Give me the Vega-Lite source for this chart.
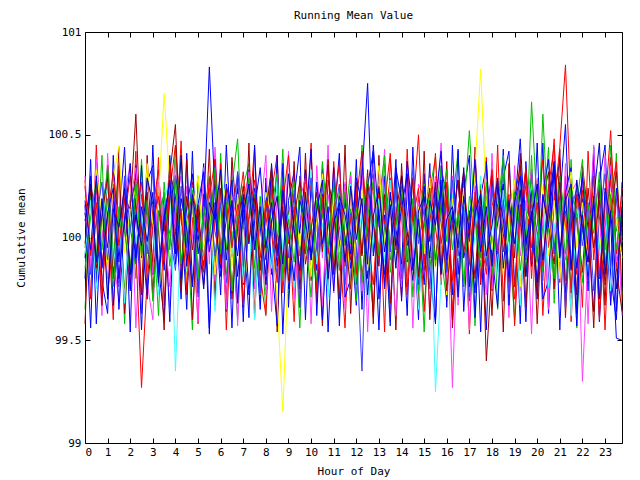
{
"$schema": "https://vega.github.io/schema/vega-lite/v6.json",
"width": 537, "height": 411,
"autosize": {"type": "none"},
"padding": {"left": 85, "top": 32, "right": 18, "bottom": 37},
"background": "white",
"config": {
  "font": "DejaVu Sans Mono",
  "view": {"stroke": "black", "strokeWidth": 1},
  "axis": {"grid": false, "domain": false, "tickColor": "black", "tickSize": -5, "labelColor": "black", "labelFont": "DejaVu Sans Mono", "labelFontSize": 11, "titleFont": "DejaVu Sans Mono", "titleFontSize": 11, "titleFontWeight": "normal", "titleColor": "black"}
},
"title": {"text": "Running Mean Value", "font": "DejaVu Sans Mono", "fontSize": 11, "fontWeight": "normal", "color": "black", "offset": 5, "anchor": "middle"},
"datasets": {
"runs": [
{"h":0,"s":13,"v":99.65},{"h":0.25,"s":13,"v":100.22},{"h":0.5,"s":13,"v":99.9},{"h":0.75,"s":13,"v":100.4},{"h":1,"s":13,"v":99.72},{"h":1.25,"s":13,"v":100.05},{"h":1.5,"s":13,"v":100.33},{"h":1.75,"s":13,"v":99.58},{"h":2,"s":13,"v":100.18},{"h":2.25,"s":13,"v":99.8},{"h":2.5,"s":13,"v":100.38},{"h":2.75,"s":13,"v":99.85},
{"h":3,"s":13,"v":100.12},{"h":3.25,"s":13,"v":99.62},{"h":3.5,"s":13,"v":100.27},{"h":3.75,"s":13,"v":99.94},{"h":4,"s":13,"v":100.44},{"h":4.25,"s":13,"v":99.75},{"h":4.5,"s":13,"v":100.08},{"h":4.75,"s":13,"v":99.55},{"h":5,"s":13,"v":100.3},{"h":5.25,"s":13,"v":99.88},{"h":5.5,"s":13,"v":100.2},{"h":5.75,"s":13,"v":99.67},
{"h":6,"s":13,"v":100.41},{"h":6.25,"s":13,"v":99.82},{"h":6.5,"s":13,"v":100.03},{"h":6.75,"s":13,"v":99.6},{"h":7,"s":13,"v":100.25},{"h":7.25,"s":13,"v":100.36},{"h":7.5,"s":13,"v":99.78},{"h":7.75,"s":13,"v":100.1},{"h":8,"s":13,"v":99.63},{"h":8.25,"s":13,"v":100.28},{"h":8.5,"s":13,"v":99.92},{"h":8.75,"s":13,"v":100.43},
{"h":9,"s":13,"v":99.7},{"h":9.25,"s":13,"v":100.15},{"h":9.5,"s":13,"v":99.56},{"h":9.75,"s":13,"v":100.21},{"h":10,"s":13,"v":100.02},{"h":10.25,"s":13,"v":99.73},{"h":10.5,"s":13,"v":100.37},{"h":10.75,"s":13,"v":99.86},{"h":11,"s":13,"v":100.24},{"h":11.25,"s":13,"v":99.61},{"h":11.5,"s":13,"v":100.09},{"h":11.75,"s":13,"v":100.32},
{"h":12,"s":13,"v":99.77},{"h":12.25,"s":13,"v":100.45},{"h":12.5,"s":13,"v":99.89},{"h":12.75,"s":13,"v":99.64},{"h":13,"s":13,"v":100.19},{"h":13.25,"s":13,"v":100.04},{"h":13.5,"s":13,"v":99.59},{"h":13.75,"s":13,"v":100.29},{"h":14,"s":13,"v":99.83},{"h":14.25,"s":13,"v":100.35},{"h":14.5,"s":13,"v":99.71},{"h":14.75,"s":13,"v":100.11},
{"h":15,"s":13,"v":99.54},{"h":15.25,"s":13,"v":100.23},{"h":15.5,"s":13,"v":100.39},{"h":15.75,"s":13,"v":99.91},{"h":16,"s":13,"v":99.69},{"h":16.25,"s":13,"v":100.16},{"h":16.5,"s":13,"v":100.42},{"h":16.75,"s":13,"v":99.76},{"h":17,"s":13,"v":100.07},{"h":17.25,"s":13,"v":99.57},{"h":17.5,"s":13,"v":100.26},{"h":17.75,"s":13,"v":99.87},
{"h":18,"s":13,"v":100.34},{"h":18.25,"s":13,"v":99.65},{"h":18.5,"s":13,"v":100.14},{"h":18.75,"s":13,"v":100.01},{"h":19,"s":13,"v":99.6},{"h":19.25,"s":13,"v":100.31},{"h":19.5,"s":13,"v":99.81},{"h":19.75,"s":13,"v":100.4},{"h":20,"s":13,"v":99.74},{"h":20.25,"s":13,"v":100.06},{"h":20.5,"s":13,"v":100.44},{"h":20.75,"s":13,"v":99.68},
{"h":21,"s":13,"v":100.17},{"h":21.25,"s":13,"v":99.79},{"h":21.5,"s":13,"v":100.38},{"h":21.75,"s":13,"v":99.56},{"h":22,"s":13,"v":100.13},{"h":22.25,"s":13,"v":99.93},{"h":22.5,"s":13,"v":100.36},{"h":22.75,"s":13,"v":99.62},{"h":23,"s":13,"v":100.22},{"h":23.25,"s":13,"v":99.84},{"h":23.5,"s":13,"v":100.41},{"h":23.75,"s":13,"v":99.72},
{"h":0,"s":14,"v":100.28},{"h":0.25,"s":14,"v":99.7},{"h":0.5,"s":14,"v":100.45},{"h":0.75,"s":14,"v":99.86},{"h":1,"s":14,"v":100.12},{"h":1.25,"s":14,"v":99.6},{"h":1.5,"s":14,"v":100.35},{"h":1.75,"s":14,"v":100.06},{"h":2,"s":14,"v":99.75},{"h":2.25,"s":14,"v":100.42},{"h":2.5,"s":14,"v":99.63},{"h":2.75,"s":14,"v":100.18},
{"h":3,"s":14,"v":99.88},{"h":3.25,"s":14,"v":100.39},{"h":3.5,"s":14,"v":99.67},{"h":3.75,"s":14,"v":100.24},{"h":4,"s":14,"v":99.95},{"h":4.25,"s":14,"v":100.47},{"h":4.5,"s":14,"v":99.72},{"h":4.75,"s":14,"v":100.1},{"h":5,"s":14,"v":99.58},{"h":5.25,"s":14,"v":100.31},{"h":5.5,"s":14,"v":100.03},{"h":5.75,"s":14,"v":99.79},
{"h":6,"s":14,"v":100.36},{"h":6.25,"s":14,"v":99.55},{"h":6.5,"s":14,"v":100.16},{"h":6.75,"s":14,"v":100.29},{"h":7,"s":14,"v":99.66},{"h":7.25,"s":14,"v":100.08},{"h":7.5,"s":14,"v":100.44},{"h":7.75,"s":14,"v":99.81},{"h":8,"s":14,"v":99.62},{"h":8.25,"s":14,"v":100.22},{"h":8.5,"s":14,"v":100.4},{"h":8.75,"s":14,"v":99.73},
{"h":9,"s":14,"v":100.13},{"h":9.25,"s":14,"v":99.59},{"h":9.5,"s":14,"v":100.3},{"h":9.75,"s":14,"v":99.92},{"h":10,"s":14,"v":100.46},{"h":10.25,"s":14,"v":99.68},{"h":10.5,"s":14,"v":100.19},{"h":10.75,"s":14,"v":99.76},{"h":11,"s":14,"v":100.37},{"h":11.25,"s":14,"v":99.97},{"h":11.5,"s":14,"v":99.56},{"h":11.75,"s":14,"v":100.26},
{"h":12,"s":14,"v":99.82},{"h":12.25,"s":14,"v":100.33},{"h":12.5,"s":14,"v":100.11},{"h":12.75,"s":14,"v":99.61},{"h":13,"s":14,"v":100.25},{"h":13.25,"s":14,"v":99.54},{"h":13.5,"s":14,"v":100.38},{"h":13.75,"s":14,"v":100.02},{"h":14,"s":14,"v":99.71},{"h":14.25,"s":14,"v":100.43},{"h":14.5,"s":14,"v":99.85},{"h":14.75,"s":14,"v":100.2},
{"h":15,"s":14,"v":99.64},{"h":15.25,"s":14,"v":100.09},{"h":15.5,"s":14,"v":100.41},{"h":15.75,"s":14,"v":99.77},{"h":16,"s":14,"v":100.27},{"h":16.25,"s":14,"v":99.6},{"h":16.5,"s":14,"v":100.14},{"h":16.75,"s":14,"v":100.32},{"h":17,"s":14,"v":99.53},{"h":17.25,"s":14,"v":100.17},{"h":17.5,"s":14,"v":99.91},{"h":17.75,"s":14,"v":100.39},
{"h":18,"s":14,"v":99.74},{"h":18.25,"s":14,"v":100.45},{"h":18.5,"s":14,"v":99.69},{"h":18.75,"s":14,"v":100.21},{"h":19,"s":14,"v":99.57},{"h":19.25,"s":14,"v":100.05},{"h":19.5,"s":14,"v":100.34},{"h":19.75,"s":14,"v":99.8},{"h":20,"s":14,"v":100.28},{"h":20.25,"s":14,"v":99.62},{"h":20.5,"s":14,"v":100.12},{"h":20.75,"s":14,"v":100.48},
{"h":21,"s":14,"v":99.78},{"h":21.25,"s":14,"v":100.3},{"h":21.5,"s":14,"v":99.59},{"h":21.75,"s":14,"v":100.15},{"h":22,"s":14,"v":99.66},{"h":22.25,"s":14,"v":100.42},{"h":22.5,"s":14,"v":99.89},{"h":22.75,"s":14,"v":100.24},{"h":23,"s":14,"v":99.55},{"h":23.25,"s":14,"v":100.19},{"h":23.5,"s":14,"v":100.37},{"h":23.75,"s":14,"v":99.7},
{"h":0,"s":15,"v":99.8},{"h":0.25,"s":15,"v":100.38},{"h":0.5,"s":15,"v":99.58},{"h":0.75,"s":15,"v":100.15},{"h":1,"s":15,"v":100.3},{"h":1.25,"s":15,"v":99.67},{"h":1.5,"s":15,"v":100.08},{"h":1.75,"s":15,"v":100.44},{"h":2,"s":15,"v":99.74},{"h":2.25,"s":15,"v":100.19},{"h":2.5,"s":15,"v":99.55},{"h":2.75,"s":15,"v":100.27},
{"h":3,"s":15,"v":100.35},{"h":3.25,"s":15,"v":99.85},{"h":3.5,"s":15,"v":99.61},{"h":3.75,"s":15,"v":100.22},{"h":4,"s":15,"v":100.12},{"h":4.25,"s":15,"v":99.7},{"h":4.5,"s":15,"v":100.41},{"h":4.75,"s":15,"v":99.78},{"h":5,"s":15,"v":100.03},{"h":5.25,"s":15,"v":100.36},{"h":5.5,"s":15,"v":99.56},{"h":5.75,"s":15,"v":100.17},
{"h":6,"s":15,"v":99.72},{"h":6.25,"s":15,"v":100.45},{"h":6.5,"s":15,"v":99.9},{"h":6.75,"s":15,"v":100.24},{"h":7,"s":15,"v":99.59},{"h":7.25,"s":15,"v":100.33},{"h":7.5,"s":15,"v":100.07},{"h":7.75,"s":15,"v":99.65},{"h":8,"s":15,"v":100.29},{"h":8.25,"s":15,"v":99.82},{"h":8.5,"s":15,"v":100.4},{"h":8.75,"s":15,"v":99.53},
{"h":9,"s":15,"v":100.18},{"h":9.25,"s":15,"v":100.32},{"h":9.5,"s":15,"v":99.75},{"h":9.75,"s":15,"v":100.06},{"h":10,"s":15,"v":100.43},{"h":10.25,"s":15,"v":99.62},{"h":10.5,"s":15,"v":100.21},{"h":10.75,"s":15,"v":99.89},{"h":11,"s":15,"v":100.34},{"h":11.25,"s":15,"v":99.57},{"h":11.5,"s":15,"v":100.26},{"h":11.75,"s":15,"v":100.01},
{"h":12,"s":15,"v":99.67},{"h":12.25,"s":15,"v":100.4},{"h":12.5,"s":15,"v":99.8},{"h":12.75,"s":15,"v":100.14},{"h":13,"s":15,"v":99.55},{"h":13.25,"s":15,"v":100.3},{"h":13.5,"s":15,"v":99.93},{"h":13.75,"s":15,"v":100.38},{"h":14,"s":15,"v":99.69},{"h":14.25,"s":15,"v":100.23},{"h":14.5,"s":15,"v":100.09},{"h":14.75,"s":15,"v":99.6},
{"h":15,"s":15,"v":100.31},{"h":15.25,"s":15,"v":99.84},{"h":15.5,"s":15,"v":99.58},{"h":15.75,"s":15,"v":100.35},{"h":16,"s":15,"v":100.18},{"h":16.25,"s":15,"v":99.72},{"h":16.5,"s":15,"v":100.43},{"h":16.75,"s":15,"v":99.64},{"h":17,"s":15,"v":100.11},{"h":17.25,"s":15,"v":100.25},{"h":17.5,"s":15,"v":99.54},{"h":17.75,"s":15,"v":100.37},
{"h":18,"s":15,"v":99.92},{"h":18.25,"s":15,"v":99.66},{"h":18.5,"s":15,"v":100.29},{"h":18.75,"s":15,"v":100.42},{"h":19,"s":15,"v":99.76},{"h":19.25,"s":15,"v":100.16},{"h":19.5,"s":15,"v":99.59},{"h":19.75,"s":15,"v":100.33},{"h":20,"s":15,"v":99.87},{"h":20.25,"s":15,"v":100.46},{"h":20.5,"s":15,"v":99.63},{"h":20.75,"s":15,"v":100.2},
{"h":21,"s":15,"v":100.38},{"h":21.25,"s":15,"v":99.73},{"h":21.5,"s":15,"v":100.1},{"h":21.75,"s":15,"v":99.57},{"h":22,"s":15,"v":100.32},{"h":22.25,"s":15,"v":100.04},{"h":22.5,"s":15,"v":99.64},{"h":22.75,"s":15,"v":100.27},{"h":23,"s":15,"v":100.45},{"h":23.25,"s":15,"v":99.81},{"h":23.5,"s":15,"v":99.6},{"h":23.75,"s":15,"v":100.12},
{"h":0,"s":16,"v":100.3},{"h":0.25,"s":16,"v":99.84},{"h":0.5,"s":16,"v":100.24},{"h":0.75,"s":16,"v":99.62},{"h":1,"s":16,"v":100.41},{"h":1.25,"s":16,"v":99.91},{"h":1.5,"s":16,"v":99.69},{"h":1.75,"s":16,"v":100.2},{"h":2,"s":16,"v":100.36},{"h":2.25,"s":16,"v":99.56},{"h":2.5,"s":16,"v":100.13},{"h":2.75,"s":16,"v":99.78},
{"h":3,"s":16,"v":99.6},{"h":3.25,"s":16,"v":100.27},{"h":3.5,"s":16,"v":100.09},{"h":3.75,"s":16,"v":99.66},{"h":4,"s":16,"v":100.38},{"h":4.25,"s":16,"v":99.81},{"h":4.5,"s":16,"v":100.25},{"h":4.75,"s":16,"v":100.02},{"h":5,"s":16,"v":99.59},{"h":5.25,"s":16,"v":100.34},{"h":5.5,"s":16,"v":99.87},{"h":5.75,"s":16,"v":100.44},
{"h":6,"s":16,"v":99.94},{"h":6.25,"s":16,"v":99.71},{"h":6.5,"s":16,"v":100.37},{"h":6.75,"s":16,"v":99.57},{"h":7,"s":16,"v":100.18},{"h":7.25,"s":16,"v":100.31},{"h":7.5,"s":16,"v":99.75},{"h":7.75,"s":16,"v":100.11},{"h":8,"s":16,"v":100.4},{"h":8.25,"s":16,"v":99.64},{"h":8.5,"s":16,"v":100.21},{"h":8.75,"s":16,"v":99.83},
{"h":9,"s":16,"v":100.42},{"h":9.25,"s":16,"v":99.7},{"h":9.5,"s":16,"v":100.07},{"h":9.75,"s":16,"v":100.28},{"h":10,"s":16,"v":99.58},{"h":10.25,"s":16,"v":100.35},{"h":10.5,"s":16,"v":99.9},{"h":10.75,"s":16,"v":100.45},{"h":11,"s":16,"v":99.73},{"h":11.25,"s":16,"v":100.16},{"h":11.5,"s":16,"v":99.65},{"h":11.75,"s":16,"v":100.3},
{"h":12,"s":16,"v":99.88},{"h":12.25,"s":16,"v":100.39},{"h":12.5,"s":16,"v":99.54},{"h":12.75,"s":16,"v":100.22},{"h":13,"s":16,"v":100.05},{"h":13.25,"s":16,"v":100.43},{"h":13.5,"s":16,"v":99.62},{"h":13.75,"s":16,"v":100.15},{"h":14,"s":16,"v":99.76},{"h":14.25,"s":16,"v":100.33},{"h":14.5,"s":16,"v":99.56},{"h":14.75,"s":16,"v":100.26},
{"h":15,"s":16,"v":100.19},{"h":15.25,"s":16,"v":99.63},{"h":15.5,"s":16,"v":100.08},{"h":15.75,"s":16,"v":100.46},{"h":16,"s":16,"v":99.79},{"h":16.25,"s":16,"v":100.3},{"h":16.5,"s":16,"v":99.67},{"h":16.75,"s":16,"v":100.12},{"h":17,"s":16,"v":99.55},{"h":17.25,"s":16,"v":100.38},{"h":17.5,"s":16,"v":100.01},{"h":17.75,"s":16,"v":99.72},
{"h":18,"s":16,"v":100.41},{"h":18.25,"s":16,"v":99.86},{"h":18.5,"s":16,"v":100.24},{"h":18.75,"s":16,"v":99.61},{"h":19,"s":16,"v":100.35},{"h":19.25,"s":16,"v":99.74},{"h":19.5,"s":16,"v":100.18},{"h":19.75,"s":16,"v":99.53},{"h":20,"s":16,"v":100.29},{"h":20.25,"s":16,"v":100.1},{"h":20.5,"s":16,"v":99.65},{"h":20.75,"s":16,"v":100.43},
{"h":21,"s":16,"v":99.8},{"h":21.25,"s":16,"v":100.36},{"h":21.5,"s":16,"v":99.7},{"h":21.75,"s":16,"v":100.14},{"h":22,"s":16,"v":100.27},{"h":22.25,"s":16,"v":99.58},{"h":22.5,"s":16,"v":100.33},{"h":22.75,"s":16,"v":99.92},{"h":23,"s":16,"v":100.4},{"h":23.25,"s":16,"v":99.69},{"h":23.5,"s":16,"v":100.23},{"h":23.75,"s":16,"v":99.62},
{"h":0,"s":17,"v":99.58},{"h":0.25,"s":17,"v":100.26},{"h":0.5,"s":17,"v":100.1},{"h":0.75,"s":17,"v":99.67},{"h":1,"s":17,"v":100.35},{"h":1.25,"s":17,"v":99.8},{"h":1.5,"s":17,"v":100.44},{"h":1.75,"s":17,"v":99.63},{"h":2,"s":17,"v":100.15},{"h":2.25,"s":17,"v":100.29},{"h":2.5,"s":17,"v":99.72},{"h":2.75,"s":17,"v":100.4},
{"h":3,"s":17,"v":99.82},{"h":3.25,"s":17,"v":100.05},{"h":3.5,"s":17,"v":99.55},{"h":3.75,"s":17,"v":100.32},{"h":4,"s":17,"v":100.2},{"h":4.25,"s":17,"v":99.74},{"h":4.5,"s":17,"v":100.38},{"h":4.75,"s":17,"v":99.6},{"h":5,"s":17,"v":100.12},{"h":5.25,"s":17,"v":99.86},{"h":5.5,"s":17,"v":100.43},{"h":5.75,"s":17,"v":99.69},
{"h":6,"s":17,"v":100.24},{"h":6.25,"s":17,"v":99.64},{"h":6.5,"s":17,"v":100.39},{"h":6.75,"s":17,"v":100.03},{"h":7,"s":17,"v":99.77},{"h":7.25,"s":17,"v":100.46},{"h":7.5,"s":17,"v":99.61},{"h":7.75,"s":17,"v":100.17},{"h":8,"s":17,"v":99.89},{"h":8.25,"s":17,"v":100.34},{"h":8.5,"s":17,"v":99.54},{"h":8.75,"s":17,"v":100.23},
{"h":9,"s":17,"v":99.84},{"h":9.25,"s":17,"v":100.37},{"h":9.5,"s":17,"v":99.66},{"h":9.75,"s":17,"v":100.41},{"h":10,"s":17,"v":99.79},{"h":10.25,"s":17,"v":100.09},{"h":10.5,"s":17,"v":99.57},{"h":10.75,"s":17,"v":100.28},{"h":11,"s":17,"v":100.14},{"h":11.25,"s":17,"v":99.7},{"h":11.5,"s":17,"v":100.45},{"h":11.75,"s":17,"v":99.63},
{"h":12,"s":17,"v":100.27},{"h":12.25,"s":17,"v":99.92},{"h":12.5,"s":17,"v":100.33},{"h":12.75,"s":17,"v":99.58},{"h":13,"s":17,"v":100.4},{"h":13.25,"s":17,"v":99.75},{"h":13.5,"s":17,"v":100.19},{"h":13.75,"s":17,"v":99.55},{"h":14,"s":17,"v":100.36},{"h":14.25,"s":17,"v":99.88},{"h":14.5,"s":17,"v":100.29},{"h":14.75,"s":17,"v":99.67},
{"h":15,"s":17,"v":100.42},{"h":15.25,"s":17,"v":99.6},{"h":15.5,"s":17,"v":100.22},{"h":15.75,"s":17,"v":99.83},{"h":16,"s":17,"v":100.37},{"h":16.25,"s":17,"v":99.56},{"h":16.5,"s":17,"v":100.04},{"h":16.75,"s":17,"v":100.31},{"h":17,"s":17,"v":99.71},{"h":17.25,"s":17,"v":100.44},{"h":17.5,"s":17,"v":99.77},{"h":17.75,"s":17,"v":100.15},
{"h":18,"s":17,"v":99.62},{"h":18.25,"s":17,"v":100.27},{"h":18.5,"s":17,"v":99.54},{"h":18.75,"s":17,"v":100.36},{"h":19,"s":17,"v":99.9},{"h":19.25,"s":17,"v":100.41},{"h":19.5,"s":17,"v":99.66},{"h":19.75,"s":17,"v":100.23},{"h":20,"s":17,"v":99.58},{"h":20.25,"s":17,"v":100.18},{"h":20.5,"s":17,"v":100.32},{"h":20.75,"s":17,"v":99.75},
{"h":21,"s":17,"v":100.43},{"h":21.25,"s":17,"v":99.61},{"h":21.5,"s":17,"v":100.2},{"h":21.75,"s":17,"v":99.72},{"h":22,"s":17,"v":100.35},{"h":22.25,"s":17,"v":100.11},{"h":22.5,"s":17,"v":99.56},{"h":22.75,"s":17,"v":100.26},{"h":23,"s":17,"v":99.67},{"h":23.25,"s":17,"v":100.39},{"h":23.5,"s":17,"v":99.85},{"h":23.75,"s":17,"v":99.64},
{"h":0,"s":18,"v":100.16},{"h":0.25,"s":18,"v":99.56},{"h":0.5,"s":18,"v":100.33},{"h":0.75,"s":18,"v":99.79},{"h":1,"s":18,"v":99.63},{"h":1.25,"s":18,"v":100.4},{"h":1.5,"s":18,"v":99.88},{"h":1.75,"s":18,"v":100.28},{"h":2,"s":18,"v":99.54},{"h":2.25,"s":18,"v":100.35},{"h":2.5,"s":18,"v":100.04},{"h":2.75,"s":18,"v":99.7},
{"h":3,"s":18,"v":100.45},{"h":3.25,"s":18,"v":99.76},{"h":3.5,"s":18,"v":100.18},{"h":3.75,"s":18,"v":99.59},{"h":4,"s":18,"v":100.3},{"h":4.25,"s":18,"v":100.13},{"h":4.5,"s":18,"v":99.65},{"h":4.75,"s":18,"v":100.42},{"h":5,"s":18,"v":99.73},{"h":5.25,"s":18,"v":100.21},{"h":5.5,"s":18,"v":99.53},{"h":5.75,"s":18,"v":100.38},
{"h":6,"s":18,"v":99.85},{"h":6.25,"s":18,"v":100.26},{"h":6.5,"s":18,"v":99.56},{"h":6.75,"s":18,"v":100.32},{"h":7,"s":18,"v":100.1},{"h":7.25,"s":18,"v":99.61},{"h":7.5,"s":18,"v":100.45},{"h":7.75,"s":18,"v":99.7},{"h":8,"s":18,"v":100.23},{"h":8.25,"s":18,"v":99.87},{"h":8.5,"s":18,"v":99.57},{"h":8.75,"s":18,"v":100.36},
{"h":9,"s":18,"v":99.66},{"h":9.25,"s":18,"v":100.19},{"h":9.5,"s":18,"v":100.44},{"h":9.75,"s":18,"v":99.6},{"h":10,"s":18,"v":100.27},{"h":10.25,"s":18,"v":99.84},{"h":10.5,"s":18,"v":100.33},{"h":10.75,"s":18,"v":99.54},{"h":11,"s":18,"v":100.08},{"h":11.25,"s":18,"v":100.41},{"h":11.5,"s":18,"v":99.71},{"h":11.75,"s":18,"v":99.8},
{"h":12,"s":18,"v":100.38},{"h":12.25,"s":18,"v":99.65},{"h":12.5,"s":18,"v":100.25},{"h":12.75,"s":18,"v":100.42},{"h":13,"s":18,"v":99.7},{"h":13.25,"s":18,"v":100.11},{"h":13.5,"s":18,"v":99.57},{"h":13.75,"s":18,"v":100.34},{"h":14,"s":18,"v":100.17},{"h":14.25,"s":18,"v":99.62},{"h":14.5,"s":18,"v":100.44},{"h":14.75,"s":18,"v":99.77},
{"h":15,"s":18,"v":99.91},{"h":15.25,"s":18,"v":100.36},{"h":15.5,"s":18,"v":99.59},{"h":15.75,"s":18,"v":100.28},{"h":16,"s":18,"v":99.66},{"h":16.25,"s":18,"v":100.45},{"h":16.5,"s":18,"v":99.82},{"h":16.75,"s":18,"v":100.22},{"h":17,"s":18,"v":100.4},{"h":17.25,"s":18,"v":99.61},{"h":17.5,"s":18,"v":100.15},{"h":17.75,"s":18,"v":99.55},
{"h":18,"s":18,"v":100.3},{"h":18.25,"s":18,"v":99.83},{"h":18.5,"s":18,"v":100.43},{"h":18.75,"s":18,"v":99.67},{"h":19,"s":18,"v":100.25},{"h":19.25,"s":18,"v":99.58},{"h":19.5,"s":18,"v":100.37},{"h":19.75,"s":18,"v":99.86},{"h":20,"s":18,"v":100.46},{"h":20.25,"s":18,"v":99.7},{"h":20.5,"s":18,"v":99.79},{"h":20.75,"s":18,"v":100.35},
{"h":21,"s":18,"v":99.55},{"h":21.25,"s":18,"v":100.22},{"h":21.5,"s":18,"v":100.34},{"h":21.75,"s":18,"v":99.63},{"h":22,"s":18,"v":100.19},{"h":22.25,"s":18,"v":99.74},{"h":22.5,"s":18,"v":100.44},{"h":22.75,"s":18,"v":99.59},{"h":23,"s":18,"v":100.09},{"h":23.25,"s":18,"v":100.31},{"h":23.5,"s":18,"v":99.64},{"h":23.75,"s":18,"v":100.27},
{"h":0,"s":1,"v":100.12},{"h":0.25,"s":1,"v":99.92},{"h":0.5,"s":1,"v":100.25},{"h":0.75,"s":1,"v":100.03},{"h":1,"s":1,"v":99.85},{"h":1.25,"s":1,"v":100.18},{"h":1.5,"s":1,"v":99.78},{"h":1.75,"s":1,"v":100.09},{"h":2,"s":1,"v":100.3},{"h":2.25,"s":1,"v":99.95},{"h":2.5,"s":1,"v":99.27},{"h":2.75,"s":1,"v":99.8},
{"h":3,"s":1,"v":100.14},{"h":3.25,"s":1,"v":100.33},{"h":3.5,"s":1,"v":99.9},{"h":3.75,"s":1,"v":100.22},{"h":4,"s":1,"v":100.45},{"h":4.25,"s":1,"v":100.08},{"h":4.5,"s":1,"v":99.82},{"h":4.75,"s":1,"v":100.27},{"h":5,"s":1,"v":100.05},{"h":5.25,"s":1,"v":99.88},{"h":5.5,"s":1,"v":100.19},{"h":5.75,"s":1,"v":100.38},
{"h":6,"s":1,"v":99.94},{"h":6.25,"s":1,"v":100.15},{"h":6.5,"s":1,"v":99.75},{"h":6.75,"s":1,"v":100.1},{"h":7,"s":1,"v":100.32},{"h":7.25,"s":1,"v":99.97},{"h":7.5,"s":1,"v":100.21},{"h":7.75,"s":1,"v":99.86},{"h":8,"s":1,"v":100.06},{"h":8.25,"s":1,"v":100.28},{"h":8.5,"s":1,"v":99.91},{"h":8.75,"s":1,"v":100.17},
{"h":9,"s":1,"v":100.4},{"h":9.25,"s":1,"v":100.02},{"h":9.5,"s":1,"v":99.81},{"h":9.75,"s":1,"v":100.13},{"h":10,"s":1,"v":100.26},{"h":10.25,"s":1,"v":99.93},{"h":10.5,"s":1,"v":100.11},{"h":10.75,"s":1,"v":100.35},{"h":11,"s":1,"v":99.84},{"h":11.25,"s":1,"v":100.04},{"h":11.5,"s":1,"v":100.22},{"h":11.75,"s":1,"v":99.89},
{"h":12,"s":1,"v":100.18},{"h":12.25,"s":1,"v":100.42},{"h":12.5,"s":1,"v":100},{"h":12.75,"s":1,"v":99.77},{"h":13,"s":1,"v":100.16},{"h":13.25,"s":1,"v":100.07},{"h":13.5,"s":1,"v":100.29},{"h":13.75,"s":1,"v":99.96},{"h":14,"s":1,"v":100.12},{"h":14.25,"s":1,"v":99.72},{"h":14.5,"s":1,"v":100.09},{"h":14.75,"s":1,"v":100.24},
{"h":15,"s":1,"v":99.87},{"h":15.25,"s":1,"v":100.31},{"h":15.5,"s":1,"v":100.05},{"h":15.75,"s":1,"v":99.83},{"h":16,"s":1,"v":100.2},{"h":16.25,"s":1,"v":99.64},{"h":16.5,"s":1,"v":100.08},{"h":16.75,"s":1,"v":100.27},{"h":17,"s":1,"v":99.98},{"h":17.25,"s":1,"v":100.15},{"h":17.5,"s":1,"v":99.79},{"h":17.75,"s":1,"v":100.1},
{"h":18,"s":1,"v":100.33},{"h":18.25,"s":1,"v":99.92},{"h":18.5,"s":1,"v":100.19},{"h":18.75,"s":1,"v":100.02},{"h":19,"s":1,"v":99.7},{"h":19.25,"s":1,"v":100.14},{"h":19.5,"s":1,"v":100.25},{"h":19.75,"s":1,"v":99.88},{"h":20,"s":1,"v":100.06},{"h":20.25,"s":1,"v":100.38},{"h":20.5,"s":1,"v":99.95},{"h":20.75,"s":1,"v":100.17},
{"h":21,"s":1,"v":100.44},{"h":21.25,"s":1,"v":100.84},{"h":21.5,"s":1,"v":100.12},{"h":21.75,"s":1,"v":99.82},{"h":22,"s":1,"v":100.23},{"h":22.25,"s":1,"v":99.91},{"h":22.5,"s":1,"v":100.16},{"h":22.75,"s":1,"v":99.6},{"h":23,"s":1,"v":100.08},{"h":23.25,"s":1,"v":100.28},{"h":23.5,"s":1,"v":99.86},{"h":23.75,"s":1,"v":100.05},
{"h":0,"s":2,"v":99.95},{"h":0.25,"s":2,"v":100.2},{"h":0.5,"s":2,"v":99.82},{"h":0.75,"s":2,"v":100.08},{"h":1,"s":2,"v":100.35},{"h":1.25,"s":2,"v":99.9},{"h":1.5,"s":2,"v":100.15},{"h":1.75,"s":2,"v":99.75},{"h":2,"s":2,"v":100.04},{"h":2.25,"s":2,"v":100.28},{"h":2.5,"s":2,"v":99.92},{"h":2.75,"s":2,"v":100.12},
{"h":3,"s":2,"v":99.7},{"h":3.25,"s":2,"v":100.06},{"h":3.5,"s":2,"v":100.22},{"h":3.75,"s":2,"v":99.86},{"h":4,"s":2,"v":100.1},{"h":4.25,"s":2,"v":100.38},{"h":4.5,"s":2,"v":99.97},{"h":4.75,"s":2,"v":100.18},{"h":5,"s":2,"v":99.8},{"h":5.25,"s":2,"v":100.07},{"h":5.5,"s":2,"v":100.3},{"h":5.75,"s":2,"v":99.88},
{"h":6,"s":2,"v":100.16},{"h":6.25,"s":2,"v":99.94},{"h":6.5,"s":2,"v":100.25},{"h":6.75,"s":2,"v":100.48},{"h":7,"s":2,"v":99.85},{"h":7.25,"s":2,"v":100.09},{"h":7.5,"s":2,"v":100.21},{"h":7.75,"s":2,"v":99.72},{"h":8,"s":2,"v":100.13},{"h":8.25,"s":2,"v":100.33},{"h":8.5,"s":2,"v":100.02},{"h":8.75,"s":2,"v":99.83},
{"h":9,"s":2,"v":100.11},{"h":9.25,"s":2,"v":100.27},{"h":9.5,"s":2,"v":99.91},{"h":9.75,"s":2,"v":100.19},{"h":10,"s":2,"v":100.04},{"h":10.25,"s":2,"v":99.78},{"h":10.5,"s":2,"v":100.36},{"h":10.75,"s":2,"v":100.08},{"h":11,"s":2,"v":99.87},{"h":11.25,"s":2,"v":100.24},{"h":11.5,"s":2,"v":99.96},{"h":11.75,"s":2,"v":100.14},
{"h":12,"s":2,"v":99.69},{"h":12.25,"s":2,"v":100.1},{"h":12.5,"s":2,"v":100.29},{"h":12.75,"s":2,"v":99.93},{"h":13,"s":2,"v":100.17},{"h":13.25,"s":2,"v":100.4},{"h":13.5,"s":2,"v":99.89},{"h":13.75,"s":2,"v":100.05},{"h":14,"s":2,"v":100.23},{"h":14.25,"s":2,"v":99.81},{"h":14.5,"s":2,"v":100.12},{"h":14.75,"s":2,"v":100},
{"h":15,"s":2,"v":100.26},{"h":15.25,"s":2,"v":99.85},{"h":15.5,"s":2,"v":100.08},{"h":15.75,"s":2,"v":100.34},{"h":16,"s":2,"v":99.98},{"h":16.25,"s":2,"v":100.18},{"h":16.5,"s":2,"v":99.74},{"h":16.75,"s":2,"v":100.11},{"h":17,"s":2,"v":100.52},{"h":17.25,"s":2,"v":100.06},{"h":17.5,"s":2,"v":99.86},{"h":17.75,"s":2,"v":100.2},
{"h":18,"s":2,"v":99.97},{"h":18.25,"s":2,"v":100.15},{"h":18.5,"s":2,"v":100.31},{"h":18.75,"s":2,"v":99.8},{"h":19,"s":2,"v":100.09},{"h":19.25,"s":2,"v":100.24},{"h":19.5,"s":2,"v":99.92},{"h":19.75,"s":2,"v":100.66},{"h":20,"s":2,"v":100.13},{"h":20.25,"s":2,"v":99.83},{"h":20.5,"s":2,"v":100.21},{"h":20.75,"s":2,"v":99.95},
{"h":21,"s":2,"v":100.3},{"h":21.25,"s":2,"v":100.07},{"h":21.5,"s":2,"v":99.77},{"h":21.75,"s":2,"v":100.16},{"h":22,"s":2,"v":100.38},{"h":22.25,"s":2,"v":99.9},{"h":22.5,"s":2,"v":100.12},{"h":22.75,"s":2,"v":100.27},{"h":23,"s":2,"v":99.94},{"h":23.25,"s":2,"v":100.45},{"h":23.5,"s":2,"v":100.03},{"h":23.75,"s":2,"v":100.19},
{"h":0,"s":3,"v":99.9},{"h":0.25,"s":3,"v":100.3},{"h":0.5,"s":3,"v":99.78},{"h":0.75,"s":3,"v":100.14},{"h":1,"s":3,"v":99.95},{"h":1.25,"s":3,"v":100.26},{"h":1.5,"s":3,"v":99.65},{"h":1.75,"s":3,"v":100.08},{"h":2,"s":3,"v":100.18},{"h":2.25,"s":3,"v":99.88},{"h":2.5,"s":3,"v":100.35},{"h":2.75,"s":3,"v":99.72},
{"h":3,"s":3,"v":100.06},{"h":3.25,"s":3,"v":100.22},{"h":3.5,"s":3,"v":99.84},{"h":3.75,"s":3,"v":100.4},{"h":4,"s":3,"v":100.03},{"h":4.25,"s":3,"v":99.8},{"h":4.5,"s":3,"v":100.15},{"h":4.75,"s":3,"v":100.31},{"h":5,"s":3,"v":99.92},{"h":5.25,"s":3,"v":100.12},{"h":5.5,"s":3,"v":100.83},{"h":5.75,"s":3,"v":100.2},
{"h":6,"s":3,"v":99.86},{"h":6.25,"s":3,"v":100.09},{"h":6.5,"s":3,"v":100.28},{"h":6.75,"s":3,"v":99.68},{"h":7,"s":3,"v":100.17},{"h":7.25,"s":3,"v":99.97},{"h":7.5,"s":3,"v":100.24},{"h":7.75,"s":3,"v":100.05},{"h":8,"s":3,"v":99.82},{"h":8.25,"s":3,"v":100.36},{"h":8.5,"s":3,"v":99.93},{"h":8.75,"s":3,"v":100.13},
{"h":9,"s":3,"v":99.75},{"h":9.25,"s":3,"v":100.21},{"h":9.5,"s":3,"v":100.02},{"h":9.75,"s":3,"v":100.33},{"h":10,"s":3,"v":99.89},{"h":10.25,"s":3,"v":100.16},{"h":10.5,"s":3,"v":99.6},{"h":10.75,"s":3,"v":100.1},{"h":11,"s":3,"v":100.27},{"h":11.25,"s":3,"v":99.94},{"h":11.5,"s":3,"v":100.19},{"h":11.75,"s":3,"v":99.85},
{"h":12,"s":3,"v":100.08},{"h":12.25,"s":3,"v":100.3},{"h":12.5,"s":3,"v":100.75},{"h":12.75,"s":3,"v":99.91},{"h":13,"s":3,"v":100.14},{"h":13.25,"s":3,"v":99.76},{"h":13.5,"s":3,"v":100.22},{"h":13.75,"s":3,"v":100.04},{"h":14,"s":3,"v":99.87},{"h":14.25,"s":3,"v":100.37},{"h":14.5,"s":3,"v":100.11},{"h":14.75,"s":3,"v":99.81},
{"h":15,"s":3,"v":100.25},{"h":15.25,"s":3,"v":99.98},{"h":15.5,"s":3,"v":100.17},{"h":15.75,"s":3,"v":100.42},{"h":16,"s":3,"v":99.84},{"h":16.25,"s":3,"v":100.09},{"h":16.5,"s":3,"v":100.28},{"h":16.75,"s":3,"v":99.9},{"h":17,"s":3,"v":100.03},{"h":17.25,"s":3,"v":99.73},{"h":17.5,"s":3,"v":100.2},{"h":17.75,"s":3,"v":100.35},
{"h":18,"s":3,"v":99.88},{"h":18.25,"s":3,"v":100.07},{"h":18.5,"s":3,"v":100.26},{"h":18.75,"s":3,"v":99.79},{"h":19,"s":3,"v":100.15},{"h":19.25,"s":3,"v":100.48},{"h":19.5,"s":3,"v":99.96},{"h":19.75,"s":3,"v":100.13},{"h":20,"s":3,"v":99.7},{"h":20.25,"s":3,"v":100.22},{"h":20.5,"s":3,"v":100.38},{"h":20.75,"s":3,"v":99.92},
{"h":21,"s":3,"v":100.18},{"h":21.25,"s":3,"v":100.55},{"h":21.5,"s":3,"v":99.85},{"h":21.75,"s":3,"v":100.11},{"h":22,"s":3,"v":100.29},{"h":22.25,"s":3,"v":99.94},{"h":22.5,"s":3,"v":100.4},{"h":22.75,"s":3,"v":99.8},{"h":23,"s":3,"v":100.16},{"h":23.25,"s":3,"v":99.67},{"h":23.5,"s":3,"v":100.24},{"h":23.75,"s":3,"v":100.02},
{"h":0,"s":4,"v":100.15},{"h":0.25,"s":4,"v":99.88},{"h":0.5,"s":4,"v":100.38},{"h":0.75,"s":4,"v":100.04},{"h":1,"s":4,"v":99.8},{"h":1.25,"s":4,"v":100.22},{"h":1.5,"s":4,"v":100.09},{"h":1.75,"s":4,"v":99.7},{"h":2,"s":4,"v":100.17},{"h":2.25,"s":4,"v":100.34},{"h":2.5,"s":4,"v":99.94},{"h":2.75,"s":4,"v":100.11},
{"h":3,"s":4,"v":99.82},{"h":3.25,"s":4,"v":100.26},{"h":3.5,"s":4,"v":100.03},{"h":3.75,"s":4,"v":99.76},{"h":4,"s":4,"v":100.14},{"h":4.25,"s":4,"v":100.3},{"h":4.5,"s":4,"v":99.91},{"h":4.75,"s":4,"v":100.19},{"h":5,"s":4,"v":99.85},{"h":5.25,"s":4,"v":100.06},{"h":5.5,"s":4,"v":100.28},{"h":5.75,"s":4,"v":99.79},
{"h":6,"s":4,"v":100.12},{"h":6.25,"s":4,"v":99.65},{"h":6.5,"s":4,"v":100.2},{"h":6.75,"s":4,"v":100.07},{"h":7,"s":4,"v":99.89},{"h":7.25,"s":4,"v":100.32},{"h":7.5,"s":4,"v":99.96},{"h":7.75,"s":4,"v":100.16},{"h":8,"s":4,"v":99.72},{"h":8.25,"s":4,"v":100.1},{"h":8.5,"s":4,"v":100.25},{"h":8.75,"s":4,"v":99.87},
{"h":9,"s":4,"v":100.05},{"h":9.25,"s":4,"v":99.78},{"h":9.5,"s":4,"v":100.18},{"h":9.75,"s":4,"v":100.29},{"h":10,"s":4,"v":99.92},{"h":10.25,"s":4,"v":100.13},{"h":10.5,"s":4,"v":99.67},{"h":10.75,"s":4,"v":100.21},{"h":11,"s":4,"v":100.02},{"h":11.25,"s":4,"v":99.84},{"h":11.5,"s":4,"v":100.27},{"h":11.75,"s":4,"v":99.95},
{"h":12,"s":4,"v":100.09},{"h":12.25,"s":4,"v":99.74},{"h":12.5,"s":4,"v":100.15},{"h":12.75,"s":4,"v":100.36},{"h":13,"s":4,"v":99.88},{"h":13.25,"s":4,"v":100.2},{"h":13.5,"s":4,"v":99.98},{"h":13.75,"s":4,"v":99.62},{"h":14,"s":4,"v":100.11},{"h":14.25,"s":4,"v":100.24},{"h":14.5,"s":4,"v":99.9},{"h":14.75,"s":4,"v":100.17},
{"h":15,"s":4,"v":99.81},{"h":15.25,"s":4,"v":100.08},{"h":15.5,"s":4,"v":100.3},{"h":15.75,"s":4,"v":99.94},{"h":16,"s":4,"v":100.14},{"h":16.25,"s":4,"v":99.27},{"h":16.5,"s":4,"v":100.05},{"h":16.75,"s":4,"v":100.23},{"h":17,"s":4,"v":99.86},{"h":17.25,"s":4,"v":100.31},{"h":17.5,"s":4,"v":99.97},{"h":17.75,"s":4,"v":100.12},
{"h":18,"s":4,"v":99.75},{"h":18.25,"s":4,"v":100.18},{"h":18.5,"s":4,"v":100.06},{"h":18.75,"s":4,"v":99.83},{"h":19,"s":4,"v":100.26},{"h":19.25,"s":4,"v":99.91},{"h":19.5,"s":4,"v":100.15},{"h":19.75,"s":4,"v":100.33},{"h":20,"s":4,"v":99.8},{"h":20.25,"s":4,"v":100.1},{"h":20.5,"s":4,"v":99.72},{"h":20.75,"s":4,"v":100.04},
{"h":21,"s":4,"v":100.13},{"h":21.25,"s":4,"v":99.89},{"h":21.5,"s":4,"v":100.22},{"h":21.75,"s":4,"v":100.27},{"h":22,"s":4,"v":99.3},{"h":22.25,"s":4,"v":99.93},{"h":22.5,"s":4,"v":100.45},{"h":22.75,"s":4,"v":99.82},{"h":23,"s":4,"v":100.09},{"h":23.25,"s":4,"v":100.35},{"h":23.5,"s":4,"v":99.88},{"h":23.75,"s":4,"v":100.2},
{"h":0,"s":5,"v":99.92},{"h":0.25,"s":5,"v":100.18},{"h":0.5,"s":5,"v":99.75},{"h":0.75,"s":5,"v":100.05},{"h":1,"s":5,"v":100.27},{"h":1.25,"s":5,"v":99.86},{"h":1.5,"s":5,"v":100.1},{"h":1.75,"s":5,"v":99.68},{"h":2,"s":5,"v":100.21},{"h":2.25,"s":5,"v":99.97},{"h":2.5,"s":5,"v":100.14},{"h":2.75,"s":5,"v":99.8},
{"h":3,"s":5,"v":100.08},{"h":3.25,"s":5,"v":99.72},{"h":3.5,"s":5,"v":100.16},{"h":3.75,"s":5,"v":100.31},{"h":4,"s":5,"v":99.35},{"h":4.25,"s":5,"v":100.06},{"h":4.5,"s":5,"v":99.83},{"h":4.75,"s":5,"v":100.24},{"h":5,"s":5,"v":100.01},{"h":5.25,"s":5,"v":99.89},{"h":5.5,"s":5,"v":100.19},{"h":5.75,"s":5,"v":99.64},
{"h":6,"s":5,"v":100.13},{"h":6.25,"s":5,"v":100.27},{"h":6.5,"s":5,"v":99.92},{"h":6.75,"s":5,"v":100.15},{"h":7,"s":5,"v":99.78},{"h":7.25,"s":5,"v":100.09},{"h":7.5,"s":5,"v":99.6},{"h":7.75,"s":5,"v":100.2},{"h":8,"s":5,"v":100.04},{"h":8.25,"s":5,"v":99.85},{"h":8.5,"s":5,"v":100.29},{"h":8.75,"s":5,"v":99.94},
{"h":9,"s":5,"v":100.11},{"h":9.25,"s":5,"v":99.76},{"h":9.5,"s":5,"v":100.17},{"h":9.75,"s":5,"v":99.98},{"h":10,"s":5,"v":100.33},{"h":10.25,"s":5,"v":99.87},{"h":10.5,"s":5,"v":100.07},{"h":10.75,"s":5,"v":99.71},{"h":11,"s":5,"v":100.22},{"h":11.25,"s":5,"v":100.1},{"h":11.5,"s":5,"v":99.82},{"h":11.75,"s":5,"v":100.26},
{"h":12,"s":5,"v":99.91},{"h":12.25,"s":5,"v":100.14},{"h":12.5,"s":5,"v":99.69},{"h":12.75,"s":5,"v":100.03},{"h":13,"s":5,"v":100.19},{"h":13.25,"s":5,"v":99.88},{"h":13.5,"s":5,"v":100.28},{"h":13.75,"s":5,"v":99.95},{"h":14,"s":5,"v":100.16},{"h":14.25,"s":5,"v":99.78},{"h":14.5,"s":5,"v":100.08},{"h":14.75,"s":5,"v":99.65},
{"h":15,"s":5,"v":100.12},{"h":15.25,"s":5,"v":100.25},{"h":15.5,"s":5,"v":99.25},{"h":15.75,"s":5,"v":99.8},{"h":16,"s":5,"v":100.06},{"h":16.25,"s":5,"v":100.21},{"h":16.5,"s":5,"v":99.9},{"h":16.75,"s":5,"v":100.17},{"h":17,"s":5,"v":99.73},{"h":17.25,"s":5,"v":100.02},{"h":17.5,"s":5,"v":100.3},{"h":17.75,"s":5,"v":99.86},
{"h":18,"s":5,"v":100.09},{"h":18.25,"s":5,"v":99.81},{"h":18.5,"s":5,"v":100.23},{"h":18.75,"s":5,"v":99.93},{"h":19,"s":5,"v":100.15},{"h":19.25,"s":5,"v":99.67},{"h":19.5,"s":5,"v":100.11},{"h":19.75,"s":5,"v":100.26},{"h":20,"s":5,"v":99.96},{"h":20.25,"s":5,"v":100.18},{"h":20.5,"s":5,"v":99.76},{"h":20.75,"s":5,"v":100.07},
{"h":21,"s":5,"v":99.88},{"h":21.25,"s":5,"v":100.2},{"h":21.5,"s":5,"v":99.62},{"h":21.75,"s":5,"v":100.14},{"h":22,"s":5,"v":100.03},{"h":22.25,"s":5,"v":99.79},{"h":22.5,"s":5,"v":100.29},{"h":22.75,"s":5,"v":99.91},{"h":23,"s":5,"v":100.16},{"h":23.25,"s":5,"v":99.74},{"h":23.5,"s":5,"v":100.1},{"h":23.75,"s":5,"v":99.98},
{"h":0,"s":6,"v":100.2},{"h":0.25,"s":6,"v":99.95},{"h":0.5,"s":6,"v":100.33},{"h":0.75,"s":6,"v":100.1},{"h":1,"s":6,"v":99.84},{"h":1.25,"s":6,"v":100.28},{"h":1.5,"s":6,"v":100.45},{"h":1.75,"s":6,"v":99.92},{"h":2,"s":6,"v":100.14},{"h":2.25,"s":6,"v":100.24},{"h":2.5,"s":6,"v":99.88},{"h":2.75,"s":6,"v":100.36},
{"h":3,"s":6,"v":100.05},{"h":3.25,"s":6,"v":100.18},{"h":3.5,"s":6,"v":100.7},{"h":3.75,"s":6,"v":100.25},{"h":4,"s":6,"v":99.9},{"h":4.25,"s":6,"v":100.19},{"h":4.5,"s":6,"v":99.78},{"h":4.75,"s":6,"v":100.13},{"h":5,"s":6,"v":100.3},{"h":5.25,"s":6,"v":99.94},{"h":5.5,"s":6,"v":100.16},{"h":5.75,"s":6,"v":99.82},
{"h":6,"s":6,"v":100.09},{"h":6.25,"s":6,"v":100.27},{"h":6.5,"s":6,"v":99.86},{"h":6.75,"s":6,"v":100.21},{"h":7,"s":6,"v":100.03},{"h":7.25,"s":6,"v":99.74},{"h":7.5,"s":6,"v":100.15},{"h":7.75,"s":6,"v":99.91},{"h":8,"s":6,"v":100.22},{"h":8.25,"s":6,"v":100.11},{"h":8.5,"s":6,"v":99.7},{"h":8.75,"s":6,"v":99.15},
{"h":9,"s":6,"v":99.9},{"h":9.25,"s":6,"v":100.17},{"h":9.5,"s":6,"v":99.96},{"h":9.75,"s":6,"v":100.26},{"h":10,"s":6,"v":99.81},{"h":10.25,"s":6,"v":100.08},{"h":10.5,"s":6,"v":100.31},{"h":10.75,"s":6,"v":99.87},{"h":11,"s":6,"v":100.2},{"h":11.25,"s":6,"v":99.93},{"h":11.5,"s":6,"v":100.14},{"h":11.75,"s":6,"v":99.75},
{"h":12,"s":6,"v":100.06},{"h":12.25,"s":6,"v":100.23},{"h":12.5,"s":6,"v":99.84},{"h":12.75,"s":6,"v":100.12},{"h":13,"s":6,"v":100.35},{"h":13.25,"s":6,"v":99.97},{"h":13.5,"s":6,"v":100.18},{"h":13.75,"s":6,"v":99.89},{"h":14,"s":6,"v":100.27},{"h":14.25,"s":6,"v":100.04},{"h":14.5,"s":6,"v":99.79},{"h":14.75,"s":6,"v":100.15},
{"h":15,"s":6,"v":99.92},{"h":15.25,"s":6,"v":100.29},{"h":15.5,"s":6,"v":99.85},{"h":15.75,"s":6,"v":100.1},{"h":16,"s":6,"v":99.72},{"h":16.25,"s":6,"v":100.19},{"h":16.5,"s":6,"v":100.02},{"h":16.75,"s":6,"v":100.24},{"h":17,"s":6,"v":99.88},{"h":17.25,"s":6,"v":100.33},{"h":17.5,"s":6,"v":100.82},{"h":17.75,"s":6,"v":100.16},
{"h":18,"s":6,"v":99.94},{"h":18.25,"s":6,"v":100.21},{"h":18.5,"s":6,"v":99.82},{"h":18.75,"s":6,"v":100.09},{"h":19,"s":6,"v":100.28},{"h":19.25,"s":6,"v":99.76},{"h":19.5,"s":6,"v":100.13},{"h":19.75,"s":6,"v":100.06},{"h":20,"s":6,"v":99.84},{"h":20.25,"s":6,"v":100.25},{"h":20.5,"s":6,"v":99.91},{"h":20.75,"s":6,"v":100.18},
{"h":21,"s":6,"v":99.8},{"h":21.25,"s":6,"v":100.11},{"h":21.5,"s":6,"v":100.32},{"h":21.75,"s":6,"v":99.95},{"h":22,"s":6,"v":100.17},{"h":22.25,"s":6,"v":99.87},{"h":22.5,"s":6,"v":100.26},{"h":22.75,"s":6,"v":100.01},{"h":23,"s":6,"v":99.83},{"h":23.25,"s":6,"v":100.22},{"h":23.5,"s":6,"v":100.08},{"h":23.75,"s":6,"v":99.9},
{"h":0,"s":7,"v":99.97},{"h":0.25,"s":7,"v":100.24},{"h":0.5,"s":7,"v":99.85},{"h":0.75,"s":7,"v":100.11},{"h":1,"s":7,"v":100.29},{"h":1.25,"s":7,"v":99.8},{"h":1.5,"s":7,"v":100.07},{"h":1.75,"s":7,"v":100.18},{"h":2,"s":7,"v":100.14},{"h":2.25,"s":7,"v":100.6},{"h":2.5,"s":7,"v":99.9},{"h":2.75,"s":7,"v":100.22},
{"h":3,"s":7,"v":99.73},{"h":3.25,"s":7,"v":100.13},{"h":3.5,"s":7,"v":100.03},{"h":3.75,"s":7,"v":100.31},{"h":4,"s":7,"v":100.55},{"h":4.25,"s":7,"v":99.86},{"h":4.5,"s":7,"v":100.2},{"h":4.75,"s":7,"v":99.94},{"h":5,"s":7,"v":100.16},{"h":5.25,"s":7,"v":99.77},{"h":5.5,"s":7,"v":100.09},{"h":5.75,"s":7,"v":100.28},
{"h":6,"s":7,"v":99.89},{"h":6.25,"s":7,"v":100.17},{"h":6.5,"s":7,"v":99.7},{"h":6.75,"s":7,"v":100.06},{"h":7,"s":7,"v":100.25},{"h":7.25,"s":7,"v":99.98},{"h":7.5,"s":7,"v":100.19},{"h":7.75,"s":7,"v":99.84},{"h":8,"s":7,"v":100.12},{"h":8.25,"s":7,"v":100.34},{"h":8.5,"s":7,"v":99.92},{"h":8.75,"s":7,"v":100.15},
{"h":9,"s":7,"v":99.79},{"h":9.25,"s":7,"v":100.1},{"h":9.5,"s":7,"v":100.27},{"h":9.75,"s":7,"v":99.87},{"h":10,"s":7,"v":100.04},{"h":10.25,"s":7,"v":100.22},{"h":10.5,"s":7,"v":99.93},{"h":10.75,"s":7,"v":100.38},{"h":11,"s":7,"v":99.82},{"h":11.25,"s":7,"v":100.14},{"h":11.5,"s":7,"v":100.01},{"h":11.75,"s":7,"v":99.75},
{"h":12,"s":7,"v":100.18},{"h":12.25,"s":7,"v":99.91},{"h":12.5,"s":7,"v":100.26},{"h":12.75,"s":7,"v":100.07},{"h":13,"s":7,"v":99.86},{"h":13.25,"s":7,"v":100.21},{"h":13.5,"s":7,"v":99.68},{"h":13.75,"s":7,"v":100.11},{"h":14,"s":7,"v":100.3},{"h":14.25,"s":7,"v":99.96},{"h":14.5,"s":7,"v":100.15},{"h":14.75,"s":7,"v":99.81},
{"h":15,"s":7,"v":100.08},{"h":15.25,"s":7,"v":100.24},{"h":15.5,"s":7,"v":99.89},{"h":15.75,"s":7,"v":100.17},{"h":16,"s":7,"v":99.74},{"h":16.25,"s":7,"v":100.05},{"h":16.5,"s":7,"v":100.28},{"h":16.75,"s":7,"v":99.92},{"h":17,"s":7,"v":100.13},{"h":17.25,"s":7,"v":99.8},{"h":17.5,"s":7,"v":100.23},{"h":17.75,"s":7,"v":99.4},
{"h":18,"s":7,"v":99.85},{"h":18.25,"s":7,"v":100.16},{"h":18.5,"s":7,"v":100.02},{"h":18.75,"s":7,"v":99.78},{"h":19,"s":7,"v":100.19},{"h":19.25,"s":7,"v":100.35},{"h":19.5,"s":7,"v":99.91},{"h":19.75,"s":7,"v":100.12},{"h":20,"s":7,"v":99.72},{"h":20.25,"s":7,"v":100.2},{"h":20.5,"s":7,"v":100.06},{"h":20.75,"s":7,"v":99.87},
{"h":21,"s":7,"v":100.27},{"h":21.25,"s":7,"v":99.69},{"h":21.5,"s":7,"v":100.14},{"h":21.75,"s":7,"v":100.09},{"h":22,"s":7,"v":99.83},{"h":22.25,"s":7,"v":100.24},{"h":22.5,"s":7,"v":99.95},{"h":22.75,"s":7,"v":100.18},{"h":23,"s":7,"v":99.77},{"h":23.25,"s":7,"v":100.11},{"h":23.5,"s":7,"v":100.32},{"h":23.75,"s":7,"v":99.93},
{"h":0,"s":8,"v":100.12},{"h":0.25,"s":8,"v":99.82},{"h":0.5,"s":8,"v":100.09},{"h":0.75,"s":8,"v":100.27},{"h":1,"s":8,"v":99.89},{"h":1.25,"s":8,"v":100.16},{"h":1.5,"s":8,"v":99.76},{"h":1.75,"s":8,"v":100.3},{"h":2,"s":8,"v":100.05},{"h":2.25,"s":8,"v":99.87},{"h":2.5,"s":8,"v":100.21},{"h":2.75,"s":8,"v":99.92},
{"h":3,"s":8,"v":100.34},{"h":3.25,"s":8,"v":99.8},{"h":3.5,"s":8,"v":100.14},{"h":3.75,"s":8,"v":100.02},{"h":4,"s":8,"v":99.84},{"h":4.25,"s":8,"v":100.25},{"h":4.5,"s":8,"v":99.95},{"h":4.75,"s":8,"v":100.19},{"h":5,"s":8,"v":99.71},{"h":5.25,"s":8,"v":100.11},{"h":5.5,"s":8,"v":100.24},{"h":5.75,"s":8,"v":99.91},
{"h":6,"s":8,"v":100.17},{"h":6.25,"s":8,"v":99.78},{"h":6.5,"s":8,"v":100.08},{"h":6.75,"s":8,"v":100.32},{"h":7,"s":8,"v":99.86},{"h":7.25,"s":8,"v":100.2},{"h":7.5,"s":8,"v":99.99},{"h":7.75,"s":8,"v":99.73},{"h":8,"s":8,"v":100.15},{"h":8.25,"s":8,"v":100.06},{"h":8.5,"s":8,"v":99.81},{"h":8.75,"s":8,"v":100.28},
{"h":9,"s":8,"v":99.9},{"h":9.25,"s":8,"v":100.23},{"h":9.5,"s":8,"v":99.66},{"h":9.75,"s":8,"v":100.13},{"h":10,"s":8,"v":100.29},{"h":10.25,"s":8,"v":99.94},{"h":10.5,"s":8,"v":100.18},{"h":10.75,"s":8,"v":99.85},{"h":11,"s":8,"v":100.09},{"h":11.25,"s":8,"v":100.26},{"h":11.5,"s":8,"v":99.77},{"h":11.75,"s":8,"v":100.12},
{"h":12,"s":8,"v":99.96},{"h":12.25,"s":8,"v":99.35},{"h":12.5,"s":8,"v":100.2},{"h":12.75,"s":8,"v":100.31},{"h":13,"s":8,"v":99.88},{"h":13.25,"s":8,"v":100.17},{"h":13.5,"s":8,"v":99.93},{"h":13.75,"s":8,"v":100.24},{"h":14,"s":8,"v":99.8},{"h":14.25,"s":8,"v":100.1},{"h":14.5,"s":8,"v":100.33},{"h":14.75,"s":8,"v":99.97},
{"h":15,"s":8,"v":100.14},{"h":15.25,"s":8,"v":99.75},{"h":15.5,"s":8,"v":100.22},{"h":15.75,"s":8,"v":100.07},{"h":16,"s":8,"v":99.83},{"h":16.25,"s":8,"v":100.28},{"h":16.5,"s":8,"v":99.91},{"h":16.75,"s":8,"v":100.15},{"h":17,"s":8,"v":99.69},{"h":17.25,"s":8,"v":100.19},{"h":17.5,"s":8,"v":100.04},{"h":17.75,"s":8,"v":99.86},
{"h":18,"s":8,"v":100.25},{"h":18.25,"s":8,"v":99.94},{"h":18.5,"s":8,"v":100.18},{"h":18.75,"s":8,"v":99.72},{"h":19,"s":8,"v":100.11},{"h":19.25,"s":8,"v":100.3},{"h":19.5,"s":8,"v":99.89},{"h":19.75,"s":8,"v":100.16},{"h":20,"s":8,"v":100.03},{"h":20.25,"s":8,"v":99.79},{"h":20.5,"s":8,"v":100.26},{"h":20.75,"s":8,"v":99.92},
{"h":21,"s":8,"v":100.2},{"h":21.25,"s":8,"v":99.65},{"h":21.5,"s":8,"v":100.13},{"h":21.75,"s":8,"v":100.24},{"h":22,"s":8,"v":99.96},{"h":22.25,"s":8,"v":100.17},{"h":22.5,"s":8,"v":99.74},{"h":22.75,"s":8,"v":100.09},{"h":23,"s":8,"v":100.31},{"h":23.25,"s":8,"v":99.85},{"h":23.5,"s":8,"v":100.19},{"h":23.75,"s":8,"v":100},
{"h":0,"s":9,"v":100.25},{"h":0.25,"s":9,"v":99.91},{"h":0.5,"s":9,"v":100.17},{"h":0.75,"s":9,"v":99.72},{"h":1,"s":9,"v":100.1},{"h":1.25,"s":9,"v":100.32},{"h":1.5,"s":9,"v":99.96},{"h":1.75,"s":9,"v":100.19},{"h":2,"s":9,"v":99.85},{"h":2.25,"s":9,"v":100.12},{"h":2.5,"s":9,"v":100.27},{"h":2.75,"s":9,"v":99.79},
{"h":3,"s":9,"v":100.06},{"h":3.25,"s":9,"v":100.2},{"h":3.5,"s":9,"v":99.88},{"h":3.75,"s":9,"v":100.35},{"h":4,"s":9,"v":99.93},{"h":4.25,"s":9,"v":100.14},{"h":4.5,"s":9,"v":99.75},{"h":4.75,"s":9,"v":100.22},{"h":5,"s":9,"v":100.08},{"h":5.25,"s":9,"v":99.83},{"h":5.5,"s":9,"v":100.29},{"h":5.75,"s":9,"v":100.03},
{"h":6,"s":9,"v":99.87},{"h":6.25,"s":9,"v":100.24},{"h":6.5,"s":9,"v":99.95},{"h":6.75,"s":9,"v":100.16},{"h":7,"s":9,"v":99.67},{"h":7.25,"s":9,"v":100.11},{"h":7.5,"s":9,"v":100.28},{"h":7.75,"s":9,"v":99.9},{"h":8,"s":9,"v":100.18},{"h":8.25,"s":9,"v":100.02},{"h":8.5,"s":9,"v":99.78},{"h":8.75,"s":9,"v":100.25},
{"h":9,"s":9,"v":99.97},{"h":9.25,"s":9,"v":100.15},{"h":9.5,"s":9,"v":99.82},{"h":9.75,"s":9,"v":100.3},{"h":10,"s":9,"v":100.07},{"h":10.25,"s":9,"v":99.74},{"h":10.5,"s":9,"v":100.2},{"h":10.75,"s":9,"v":99.92},{"h":11,"s":9,"v":100.13},{"h":11.25,"s":9,"v":100.36},{"h":11.5,"s":9,"v":99.86},{"h":11.75,"s":9,"v":100.09},
{"h":12,"s":9,"v":100.23},{"h":12.25,"s":9,"v":99.81},{"h":12.5,"s":9,"v":100.05},{"h":12.75,"s":9,"v":100.27},{"h":13,"s":9,"v":99.89},{"h":13.25,"s":9,"v":100.16},{"h":13.5,"s":9,"v":100.41},{"h":13.75,"s":9,"v":99.94},{"h":14,"s":9,"v":100.21},{"h":14.25,"s":9,"v":99.76},{"h":14.5,"s":9,"v":100.12},{"h":14.75,"s":9,"v":100.5},
{"h":15,"s":9,"v":99.84},{"h":15.25,"s":9,"v":100.08},{"h":15.5,"s":9,"v":100.26},{"h":15.75,"s":9,"v":99.97},{"h":16,"s":9,"v":100.18},{"h":16.25,"s":9,"v":99.79},{"h":16.5,"s":9,"v":100.1},{"h":16.75,"s":9,"v":100.31},{"h":17,"s":9,"v":99.87},{"h":17.25,"s":9,"v":100.22},{"h":17.5,"s":9,"v":100.01},{"h":17.75,"s":9,"v":99.82},
{"h":18,"s":9,"v":100.15},{"h":18.25,"s":9,"v":100.28},{"h":18.5,"s":9,"v":99.93},{"h":18.75,"s":9,"v":100.19},{"h":19,"s":9,"v":99.76},{"h":19.25,"s":9,"v":100.12},{"h":19.5,"s":9,"v":100.34},{"h":19.75,"s":9,"v":99.95},{"h":20,"s":9,"v":100.17},{"h":20.25,"s":9,"v":99.86},{"h":20.5,"s":9,"v":100.24},{"h":20.75,"s":9,"v":100.45},
{"h":21,"s":9,"v":99.91},{"h":21.25,"s":9,"v":100.13},{"h":21.5,"s":9,"v":99.73},{"h":21.75,"s":9,"v":100.21},{"h":22,"s":9,"v":100.06},{"h":22.25,"s":9,"v":99.88},{"h":22.5,"s":9,"v":100.3},{"h":22.75,"s":9,"v":99.8},{"h":23,"s":9,"v":100.16},{"h":23.25,"s":9,"v":100.52},{"h":23.5,"s":9,"v":99.92},{"h":23.75,"s":9,"v":100.24},
{"h":0,"s":10,"v":99.85},{"h":0.25,"s":10,"v":100.1},{"h":0.5,"s":10,"v":100.28},{"h":0.75,"s":10,"v":99.94},{"h":1,"s":10,"v":100.19},{"h":1.25,"s":10,"v":99.76},{"h":1.5,"s":10,"v":100.13},{"h":1.75,"s":10,"v":100.03},{"h":2,"s":10,"v":99.83},{"h":2.25,"s":10,"v":100.26},{"h":2.5,"s":10,"v":99.91},{"h":2.75,"s":10,"v":100.18},
{"h":3,"s":10,"v":99.69},{"h":3.25,"s":10,"v":100.12},{"h":3.5,"s":10,"v":100.21},{"h":3.75,"s":10,"v":99.96},{"h":4,"s":10,"v":100.3},{"h":4.25,"s":10,"v":99.87},{"h":4.5,"s":10,"v":100.08},{"h":4.75,"s":10,"v":100.23},{"h":5,"s":10,"v":99.81},{"h":5.25,"s":10,"v":100.15},{"h":5.5,"s":10,"v":99.98},{"h":5.75,"s":10,"v":100.34},
{"h":6,"s":10,"v":99.92},{"h":6.25,"s":10,"v":100.17},{"h":6.5,"s":10,"v":99.74},{"h":6.75,"s":10,"v":100.11},{"h":7,"s":10,"v":100.04},{"h":7.25,"s":10,"v":100.29},{"h":7.5,"s":10,"v":99.85},{"h":7.75,"s":10,"v":100.2},{"h":8,"s":10,"v":99.93},{"h":8.25,"s":10,"v":100.14},{"h":8.5,"s":10,"v":100.31},{"h":8.75,"s":10,"v":99.8},
{"h":9,"s":10,"v":100.09},{"h":9.25,"s":10,"v":99.88},{"h":9.5,"s":10,"v":100.24},{"h":9.75,"s":10,"v":100.01},{"h":10,"s":10,"v":99.71},{"h":10.25,"s":10,"v":100.18},{"h":10.5,"s":10,"v":100.11},{"h":10.75,"s":10,"v":99.95},{"h":11,"s":10,"v":100.27},{"h":11.25,"s":10,"v":99.84},{"h":11.5,"s":10,"v":100.22},{"h":11.75,"s":10,"v":99.97},
{"h":12,"s":10,"v":100.14},{"h":12.25,"s":10,"v":99.78},{"h":12.5,"s":10,"v":100.1},{"h":12.75,"s":10,"v":100.28},{"h":13,"s":10,"v":99.91},{"h":13.25,"s":10,"v":100.36},{"h":13.5,"s":10,"v":99.83},{"h":13.75,"s":10,"v":100.07},{"h":14,"s":10,"v":100.25},{"h":14.25,"s":10,"v":99.89},{"h":14.5,"s":10,"v":100.19},{"h":14.75,"s":10,"v":99.73},
{"h":15,"s":10,"v":100.05},{"h":15.25,"s":10,"v":100.21},{"h":15.5,"s":10,"v":99.86},{"h":15.75,"s":10,"v":100.16},{"h":16,"s":10,"v":100.33},{"h":16.25,"s":10,"v":99.94},{"h":16.5,"s":10,"v":100.12},{"h":16.75,"s":10,"v":99.77},{"h":17,"s":10,"v":100.2},{"h":17.25,"s":10,"v":100.08},{"h":17.5,"s":10,"v":99.9},{"h":17.75,"s":10,"v":100.27},
{"h":18,"s":10,"v":99.82},{"h":18.25,"s":10,"v":100.13},{"h":18.5,"s":10,"v":100.4},{"h":18.75,"s":10,"v":99.98},{"h":19,"s":10,"v":100.22},{"h":19.25,"s":10,"v":99.84},{"h":19.5,"s":10,"v":100.09},{"h":19.75,"s":10,"v":100.29},{"h":20,"s":10,"v":99.88},{"h":20.25,"s":10,"v":100.6},{"h":20.5,"s":10,"v":100.04},{"h":20.75,"s":10,"v":99.8},
{"h":21,"s":10,"v":100.18},{"h":21.25,"s":10,"v":99.92},{"h":21.5,"s":10,"v":100.25},{"h":21.75,"s":10,"v":100.11},{"h":22,"s":10,"v":99.78},{"h":22.25,"s":10,"v":100.16},{"h":22.5,"s":10,"v":100.02},{"h":22.75,"s":10,"v":100.32},{"h":23,"s":10,"v":99.86},{"h":23.25,"s":10,"v":100.21},{"h":23.5,"s":10,"v":99.94},{"h":23.75,"s":10,"v":100.14},
{"h":0,"s":11,"v":100.08},{"h":0.25,"s":11,"v":100.26},{"h":0.5,"s":11,"v":99.88},{"h":0.75,"s":11,"v":100.19},{"h":1,"s":11,"v":99.7},{"h":1.25,"s":11,"v":100.14},{"h":1.5,"s":11,"v":100.05},{"h":1.75,"s":11,"v":100.24},{"h":2,"s":11,"v":99.82},{"h":2.25,"s":11,"v":100.11},{"h":2.5,"s":11,"v":99.96},{"h":2.75,"s":11,"v":100.29},
{"h":3,"s":11,"v":100.16},{"h":3.25,"s":11,"v":99.78},{"h":3.5,"s":11,"v":100.1},{"h":3.75,"s":11,"v":100.27},{"h":4,"s":11,"v":99.92},{"h":4.25,"s":11,"v":100.4},{"h":4.5,"s":11,"v":99.86},{"h":4.75,"s":11,"v":100.21},{"h":5,"s":11,"v":100.02},{"h":5.25,"s":11,"v":99.75},{"h":5.5,"s":11,"v":100.17},{"h":5.75,"s":11,"v":100.09},
{"h":6,"s":11,"v":100.33},{"h":6.25,"s":11,"v":99.89},{"h":6.5,"s":11,"v":100.18},{"h":6.75,"s":11,"v":99.81},{"h":7,"s":11,"v":100.12},{"h":7.25,"s":11,"v":100.26},{"h":7.5,"s":11,"v":99.94},{"h":7.75,"s":11,"v":100.15},{"h":8,"s":11,"v":99.77},{"h":8.25,"s":11,"v":100.08},{"h":8.5,"s":11,"v":100.2},{"h":8.75,"s":11,"v":99.87},
{"h":9,"s":11,"v":100.31},{"h":9.25,"s":11,"v":100.04},{"h":9.5,"s":11,"v":99.84},{"h":9.75,"s":11,"v":100.22},{"h":10,"s":11,"v":99.91},{"h":10.25,"s":11,"v":100.13},{"h":10.5,"s":11,"v":100.28},{"h":10.75,"s":11,"v":99.8},{"h":11,"s":11,"v":100.07},{"h":11.25,"s":11,"v":100.17},{"h":11.5,"s":11,"v":99.88},{"h":11.75,"s":11,"v":100.25},
{"h":12,"s":11,"v":99.99},{"h":12.25,"s":11,"v":100.19},{"h":12.5,"s":11,"v":99.72},{"h":12.75,"s":11,"v":100.1},{"h":13,"s":11,"v":100.24},{"h":13.25,"s":11,"v":99.93},{"h":13.5,"s":11,"v":100.16},{"h":13.75,"s":11,"v":99.85},{"h":14,"s":11,"v":100.3},{"h":14.25,"s":11,"v":100.03},{"h":14.5,"s":11,"v":99.79},{"h":14.75,"s":11,"v":100.13},
{"h":15,"s":11,"v":100.2},{"h":15.25,"s":11,"v":99.9},{"h":15.5,"s":11,"v":100.27},{"h":15.75,"s":11,"v":99.82},{"h":16,"s":11,"v":100.09},{"h":16.25,"s":11,"v":100.15},{"h":16.5,"s":11,"v":99.95},{"h":16.75,"s":11,"v":100.34},{"h":17,"s":11,"v":99.76},{"h":17.25,"s":11,"v":100.12},{"h":17.5,"s":11,"v":100.21},{"h":17.75,"s":11,"v":99.91},
{"h":18,"s":11,"v":100.06},{"h":18.25,"s":11,"v":100.29},{"h":18.5,"s":11,"v":99.85},{"h":18.75,"s":11,"v":100.18},{"h":19,"s":11,"v":99.97},{"h":19.25,"s":11,"v":100.23},{"h":19.5,"s":11,"v":99.81},{"h":19.75,"s":11,"v":100.1},{"h":20,"s":11,"v":100.26},{"h":20.25,"s":11,"v":99.89},{"h":20.5,"s":11,"v":100.14},{"h":20.75,"s":11,"v":100.37},
{"h":21,"s":11,"v":99.93},{"h":21.25,"s":11,"v":100.2},{"h":21.5,"s":11,"v":99.84},{"h":21.75,"s":11,"v":100.28},{"h":22,"s":11,"v":100.04},{"h":22.25,"s":11,"v":99.88},{"h":22.5,"s":11,"v":100.19},{"h":22.75,"s":11,"v":100.46},{"h":23,"s":11,"v":99.82},{"h":23.25,"s":11,"v":100.13},{"h":23.5,"s":11,"v":99.75},{"h":23.75,"s":11,"v":100.15},
{"h":0,"s":12,"v":100.18},{"h":0.25,"s":12,"v":99.94},{"h":0.5,"s":12,"v":100.3},{"h":0.75,"s":12,"v":99.85},{"h":1,"s":12,"v":100.12},{"h":1.25,"s":12,"v":100.24},{"h":1.5,"s":12,"v":99.8},{"h":1.75,"s":12,"v":100.09},{"h":2,"s":12,"v":100.36},{"h":2.25,"s":12,"v":99.9},{"h":2.5,"s":12,"v":100.15},{"h":2.75,"s":12,"v":99.98},
{"h":3,"s":12,"v":100.22},{"h":3.25,"s":12,"v":99.83},{"h":3.5,"s":12,"v":100.08},{"h":3.75,"s":12,"v":100.28},{"h":4,"s":12,"v":99.87},{"h":4.25,"s":12,"v":100.19},{"h":4.5,"s":12,"v":100.04},{"h":4.75,"s":12,"v":99.76},{"h":5,"s":12,"v":100.16},{"h":5.25,"s":12,"v":100.32},{"h":5.5,"s":12,"v":99.93},{"h":5.75,"s":12,"v":100.13},
{"h":6,"s":12,"v":99.81},{"h":6.25,"s":12,"v":100.26},{"h":6.5,"s":12,"v":100.1},{"h":6.75,"s":12,"v":99.91},{"h":7,"s":12,"v":100.21},{"h":7.25,"s":12,"v":99.72},{"h":7.5,"s":12,"v":100.14},{"h":7.75,"s":12,"v":100.34},{"h":8,"s":12,"v":99.95},{"h":8.25,"s":12,"v":100.17},{"h":8.5,"s":12,"v":99.86},{"h":8.75,"s":12,"v":100.23},
{"h":9,"s":12,"v":100.02},{"h":9.25,"s":12,"v":99.79},{"h":9.5,"s":12,"v":100.18},{"h":9.75,"s":12,"v":100.08},{"h":10,"s":12,"v":99.89},{"h":10.25,"s":12,"v":100.27},{"h":10.5,"s":12,"v":99.97},{"h":10.75,"s":12,"v":100.15},{"h":11,"s":12,"v":99.74},{"h":11.25,"s":12,"v":100.2},{"h":11.5,"s":12,"v":100.11},{"h":11.75,"s":12,"v":99.92},
{"h":12,"s":12,"v":100.29},{"h":12.25,"s":12,"v":100.16},{"h":12.5,"s":12,"v":99.87},{"h":12.75,"s":12,"v":100.45},{"h":13,"s":12,"v":100.07},{"h":13.25,"s":12,"v":99.82},{"h":13.5,"s":12,"v":100.22},{"h":13.75,"s":12,"v":99.96},{"h":14,"s":12,"v":100.14},{"h":14.25,"s":12,"v":100.31},{"h":14.5,"s":12,"v":99.84},{"h":14.75,"s":12,"v":100.09},
{"h":15,"s":12,"v":99.77},{"h":15.25,"s":12,"v":100.18},{"h":15.5,"s":12,"v":100.06},{"h":15.75,"s":12,"v":100.25},{"h":16,"s":12,"v":99.89},{"h":16.25,"s":12,"v":100.13},{"h":16.5,"s":12,"v":99.71},{"h":16.75,"s":12,"v":100.2},{"h":17,"s":12,"v":100.03},{"h":17.25,"s":12,"v":100.38},{"h":17.5,"s":12,"v":99.93},{"h":17.75,"s":12,"v":100.15},
{"h":18,"s":12,"v":99.86},{"h":18.25,"s":12,"v":100.24},{"h":18.5,"s":12,"v":100.09},{"h":18.75,"s":12,"v":99.81},{"h":19,"s":12,"v":100.17},{"h":19.25,"s":12,"v":100.3},{"h":19.5,"s":12,"v":99.98},{"h":19.75,"s":12,"v":100.12},{"h":20,"s":12,"v":99.78},{"h":20.25,"s":12,"v":100.21},{"h":20.5,"s":12,"v":100.05},{"h":20.75,"s":12,"v":100.36},
{"h":21,"s":12,"v":99.9},{"h":21.25,"s":12,"v":100.18},{"h":21.5,"s":12,"v":100.26},{"h":21.75,"s":12,"v":99.85},{"h":22,"s":12,"v":100.11},{"h":22.25,"s":12,"v":99.79},{"h":22.5,"s":12,"v":100.2},{"h":22.75,"s":12,"v":99.7},{"h":23,"s":12,"v":100.24},{"h":23.25,"s":12,"v":100.07},{"h":23.5,"s":12,"v":99.51},{"h":23.75,"s":12,"v":99.5}
],
"frame": [{"h": 0, "v": 100}]
},
"layer": [
  {
    "data": {"name": "runs"},
    "mark": {"type": "line", "strokeWidth": 1, "interpolate": "linear"},
    "encoding": {
      "x": {"field": "h", "type": "quantitative", "scale": {"domain": [0, 23.75], "nice": false, "zero": false},
            "axis": {"orient": "bottom", "values": [0,1,2,3,4,5,6,7,8,9,10,11,12,13,14,15,16,17,18,19,20,21,22,23], "title": "Hour of Day", "labelPadding": 8, "titlePadding": 8}},
      "y": {"field": "v", "type": "quantitative", "scale": {"domain": [99, 101], "nice": false, "zero": false},
            "axis": {"orient": "left", "values": [99, 99.5, 100, 100.5, 101], "format": "~g", "title": "Cumulative mean", "labelPadding": 9, "titlePadding": 21}},
      "color": {"field": "s", "type": "nominal", "legend": null,
                "scale": {"domain": [1,2,3,4,5,6,7,8,9,10,11,12,13,14,15,16,17,18], "range": ["#ff0000", "#00c000", "#0000ff", "#ff40ff", "#40ffff", "#ffff00", "#a00000", "#4040ff", "#ff0000", "#00c000", "#0000c0", "#0000ff", "#00c000", "#ff0000", "#0000ff", "#ff40ff", "#a00000", "#0000ff"]}}
    }
  },
  {
    "data": {"name": "frame"},
    "mark": {"type": "point", "opacity": 0},
    "encoding": {
      "x": {"field": "h", "type": "quantitative", "scale": {"domain": [0, 23.75], "nice": false, "zero": false},
            "axis": {"orient": "top", "labels": false, "title": null, "values": [0,1,2,3,4,5,6,7,8,9,10,11,12,13,14,15,16,17,18,19,20,21,22,23]}},
      "y": {"field": "v", "type": "quantitative", "scale": {"domain": [99, 101], "nice": false, "zero": false},
            "axis": {"orient": "right", "labels": false, "title": null, "values": [99, 99.5, 100, 100.5, 101]}}
    }
  }
],
"resolve": {"axis": {"x": "independent", "y": "independent"}}
}
